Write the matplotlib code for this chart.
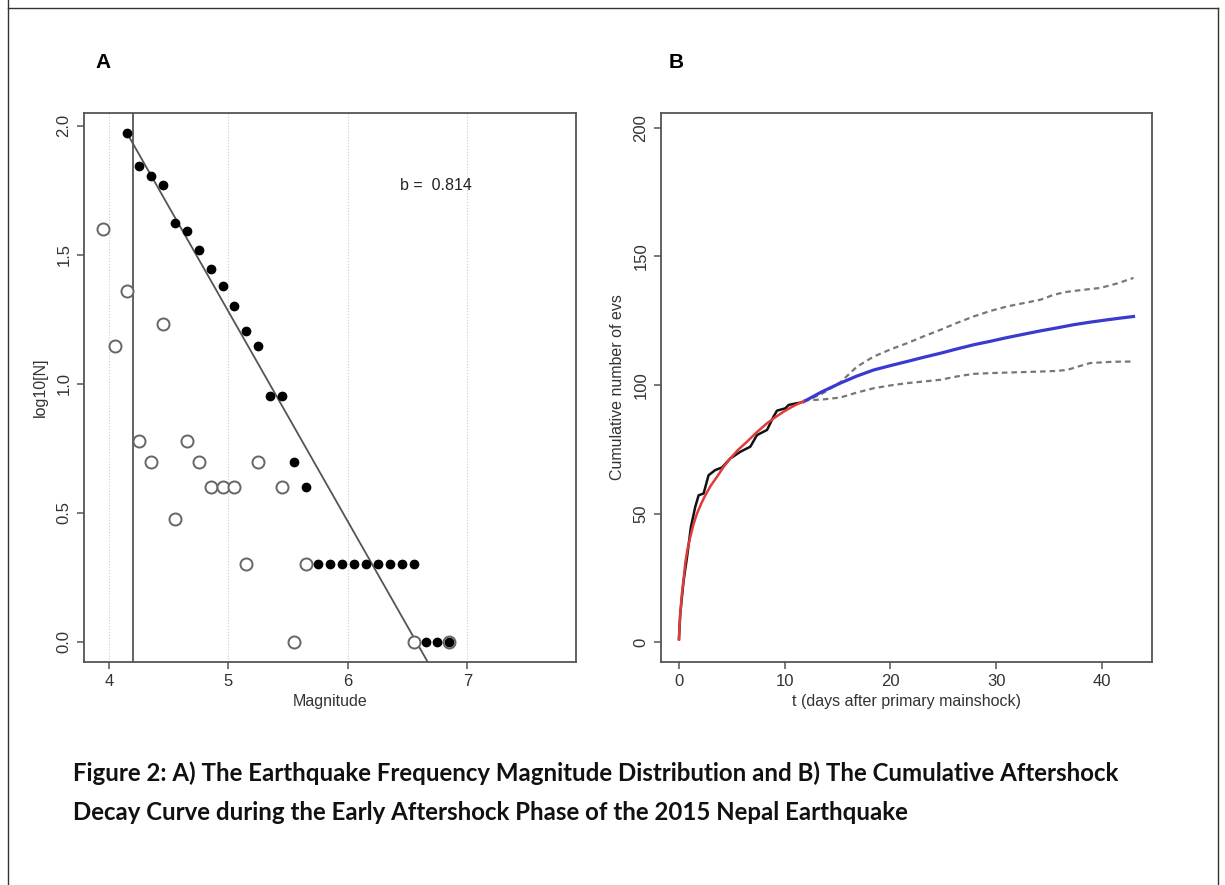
import numpy as np
import matplotlib
matplotlib.use("Agg")
import matplotlib.pyplot as plt
from matplotlib.lines import Line2D

# ---- Panel A: frequency-magnitude distribution ----
mag_cum = [4.15, 4.25, 4.35, 4.45, 4.55, 4.65, 4.75, 4.85, 4.95, 5.05,
           5.15, 5.25, 5.35, 5.45, 5.55, 5.65, 5.75, 5.85, 5.95, 6.05,
           6.15, 6.25, 6.35, 6.45, 6.55, 6.65, 6.75, 6.85]
n_cum = [94, 70, 64, 59, 42, 39, 33, 28, 24, 20,
         16, 14, 9, 9, 5, 4, 2, 2, 2, 2,
         2, 2, 2, 2, 2, 1, 1, 1]

mag_bin = [3.95, 4.05, 4.15, 4.25, 4.35, 4.45, 4.55, 4.65, 4.75, 4.85,
           4.95, 5.05, 5.15, 5.25, 5.45, 5.55, 5.65, 6.55, 6.85]
n_bin = [40, 14, 23, 6, 5, 17, 3, 6, 5, 4,
         4, 4, 2, 5, 4, 1, 2, 1, 1]

mc = 4.2
b_value = 0.814
a_value = 5.35

# ---- Panel B: cumulative aftershock decay ----
t_obs = [0, 0.12, 0.44, 0.76, 1.13, 1.54, 1.86, 2.33, 2.8, 3.43, 4.07, 4.85,
         5.8, 6.75, 7.38, 8.33, 8.95, 9.27, 10.06, 10.37, 11.16, 11.48]
n_obs = [1.3, 11, 24, 33, 44.8, 52.6, 57.1, 57.8, 64.9, 66.9, 67.9, 71.4,
         74, 76, 80.5, 82.5, 87.7, 90, 90.9, 92.2, 92.9, 93.1]

t_fit = [0, 0.05, 0.12, 0.28, 0.45, 0.6, 0.8, 1.07, 1.35, 1.7, 2.1, 2.49,
         3.0, 3.6, 4.2, 4.85, 5.6, 6.43, 7.3, 8.33, 9.1, 9.9, 10.7, 11.48, 11.8]
n_fit = [1, 6, 11, 18.9, 25, 31, 36, 40.9, 45.5, 50, 53.8, 57.1,
         60.8, 64.3, 68, 71.4, 74.8, 77.9, 81.4, 85.1, 87.4, 89.6, 91.5, 93.1, 93.6]

t_fc = [11.8, 13.5, 15.26, 16.8, 18.41, 20, 21.57, 23.1, 24.72, 26.3, 27.87,
        29.5, 31.03, 32.6, 34.18, 35.8, 37.33, 38.9, 40.49, 41.8, 43.0]
n_fc = [93.5, 97.3, 100.7, 103.4, 105.8, 107.5, 109.1, 110.7, 112.3, 114.0, 115.6,
        117.0, 118.4, 119.7, 121.0, 122.2, 123.4, 124.4, 125.3, 126.0, 126.6]

t_up = [11.8, 13.5, 15.26, 16.84, 18.41, 20, 21.57, 23.1, 24.72, 26.3, 27.87,
        29.5, 31.03, 32.6, 34.18, 35.3, 36.39, 38.1, 39.86, 41.5, 43.0]
n_up = [93.5, 96.5, 101, 107.1, 111, 113.8, 116.2, 118.8, 121.4, 124.1, 126.6,
        128.8, 130.5, 131.8, 133.1, 134.8, 136, 136.9, 137.7, 139.5, 141.6]

t_lo = [11.8, 13.5, 15.26, 16.8, 18.41, 20, 21.57, 23.1, 24.72, 26.3, 27.87,
        29.5, 31.03, 32.6, 34.18, 35.5, 36.7, 37.8, 38.9, 41, 43.0]
n_lo = [94, 94.3, 95.1, 97, 98.7, 99.8, 100.7, 101.3, 102, 103.3, 104.3,
        104.6, 104.8, 105, 105.2, 105.4, 105.8, 107.2, 108.5, 109, 109.1]

plt.rcParams['font.family'] = ['Liberation Sans', 'DejaVu Sans']
axcol = '#555555'

fig = plt.figure(figsize=(12.25, 8.85), dpi=100)

def r_style(ax):
    for s in ax.spines.values():
        s.set_color(axcol)
        s.set_linewidth(1.3)
    ax.tick_params(direction='out', length=5, width=1.1, color=axcol,
                   labelsize=12, labelcolor='#333333', pad=4)
    for lab in ax.get_yticklabels():
        lab.set_rotation(90)
        lab.set_va('center')

# Panel A
axA = fig.add_axes([84 / 1225, 1 - 662 / 885, 492 / 1225, 549 / 885])
for gx in [4, 5, 6, 7]:
    axA.axvline(gx, color='#cccccc', lw=0.8, ls=':', zorder=0)
axA.axvline(mc, color=axcol, lw=1.3)
mline = np.array([4.15, 7.2])
axA.plot(mline, a_value - b_value * mline, color=axcol, lw=1.3)
axA.scatter(mag_bin, np.log10(n_bin), s=75, facecolors='white',
            edgecolors='#666666', linewidths=1.4, zorder=3)
axA.scatter(mag_cum, np.log10(n_cum), s=36, color='black', zorder=4)
axA.text(6.74, 1.77, 'b =  0.814', fontsize=11.5, ha='center', va='center',
         color='#222222')
axA.set_xlim(3.79, 7.91)
axA.set_ylim(-0.078, 2.05)
axA.set_xticks([4, 5, 6, 7])
axA.set_yticks([0, 0.5, 1.0, 1.5, 2.0])
axA.set_yticklabels(['0.0', '0.5', '1.0', '1.5', '2.0'])
axA.set_xlabel('Magnitude', fontsize=11.5, color='#333333', labelpad=3)
axA.set_ylabel('log10[N]', fontsize=11.5, color='#333333', labelpad=6)
r_style(axA)

# Panel B
axB = fig.add_axes([661 / 1225, 1 - 662 / 885, 491 / 1225, 549 / 885])
axB.plot(t_up, n_up, color='#777777', lw=1.6, ls=(0, (2.5, 1.8)))
axB.plot(t_lo, n_lo, color='#777777', lw=1.6, ls=(0, (2.5, 1.8)))
axB.plot(t_fc, n_fc, color='#3a3acf', lw=2.3)
axB.plot(t_obs, n_obs, color='#111111', lw=1.8)
axB.plot(t_fit, n_fit, color='#e03a3a', lw=1.8)
axB.set_xlim(-1.7, 44.75)
axB.set_ylim(-7.7, 205.7)
axB.set_xticks([0, 10, 20, 30, 40])
axB.set_yticks([0, 50, 100, 150, 200])
axB.set_xlabel('t (days after primary mainshock)', fontsize=11.5,
               color='#333333', labelpad=3)
axB.set_ylabel('Cumulative number of evs', fontsize=11.5, color='#333333',
               labelpad=6)
r_style(axB)

# panel letters
fig.text(103 / 1225, 1 - 62 / 885, 'A', fontsize=15, fontweight='bold',
         ha='center', va='center')
fig.text(676 / 1225, 1 - 62 / 885, 'B', fontsize=15, fontweight='bold',
         ha='center', va='center')

# caption
cap_font = ['Lato', 'DejaVu Sans']
fig.text(73 / 1225, 1 - 773 / 885,
         'Figure 2: A) The Earthquake Frequency Magnitude Distribution and B) The Cumulative Aftershock',
         fontsize=17.3, fontweight='bold', family=cap_font, ha='left', va='center',
         color='#111111')
fig.text(73 / 1225, 1 - 812 / 885,
         'Decay Curve during the Early Aftershock Phase of the 2015 Nepal Earthquake',
         fontsize=17.3, fontweight='bold', family=cap_font, ha='left', va='center',
         color='#111111')

# outer frame
for xs, ys in [([8, 8], [0, 885]), ([8, 1218], [8, 8]), ([1218, 1218], [8, 885])]:
    fig.add_artist(Line2D([x / 1225 for x in xs], [1 - y / 885 for y in ys],
                          color='#333333', lw=1.0))

fig.savefig('out.png', dpi=100)
